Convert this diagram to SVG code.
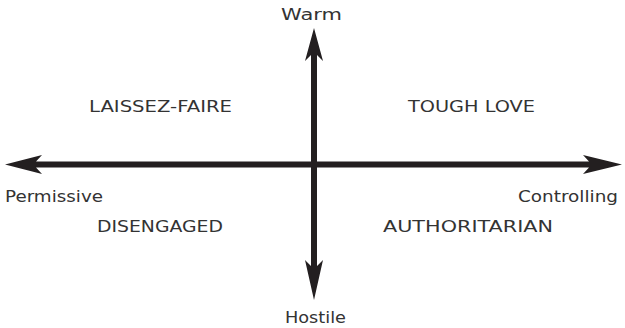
<svg xmlns="http://www.w3.org/2000/svg" width="625" height="328" viewBox="0 0 625 328">
  <style>
    .lbl { font-family: "DejaVu Sans", "Liberation Sans", sans-serif; font-size: 15.5px; fill: #333333; }
    .axis { fill: #231f20; }
  </style>
  <rect width="625" height="328" fill="#ffffff"/>
  <g id="connectors">
    <!-- horizontal axis: Permissive to Controlling -->
    <path class="axis" d="M5,164.5 L42,155 L36,161.5 L589,161.5 L583,155 L622,164.5 L583,174 L589,167.5 L36,167.5 L42,174 Z"/>
    <!-- vertical axis: Warm to Hostile -->
    <path class="axis" d="M314,28 L323,61 L317,55 L317,266 L323,260 L314,300 L305,260 L311,266 L311,55 L305,61 Z"/>
  </g>
  <g id="axis-warm"><text class="lbl" x="281" y="20" textLength="61" lengthAdjust="spacingAndGlyphs">Warm</text></g>
  <g id="axis-hostile"><text class="lbl" x="285" y="323" textLength="61" lengthAdjust="spacingAndGlyphs">Hostile</text></g>
  <g id="axis-permissive"><text class="lbl" x="5" y="202" textLength="98" lengthAdjust="spacingAndGlyphs">Permissive</text></g>
  <g id="axis-controlling"><text class="lbl" x="518" y="202" textLength="100" lengthAdjust="spacingAndGlyphs">Controlling</text></g>
  <g id="q-laissez-faire"><text class="lbl" x="89" y="112" textLength="143" lengthAdjust="spacingAndGlyphs">LAISSEZ-FAIRE</text></g>
  <g id="q-tough-love"><text class="lbl" x="408" y="112" textLength="127" lengthAdjust="spacingAndGlyphs">TOUGH LOVE</text></g>
  <g id="q-disengaged"><text class="lbl" x="97" y="232" textLength="126" lengthAdjust="spacingAndGlyphs">DISENGAGED</text></g>
  <g id="q-authoritarian"><text class="lbl" x="383" y="232" textLength="170" lengthAdjust="spacingAndGlyphs">AUTHORITARIAN</text></g>
</svg>
